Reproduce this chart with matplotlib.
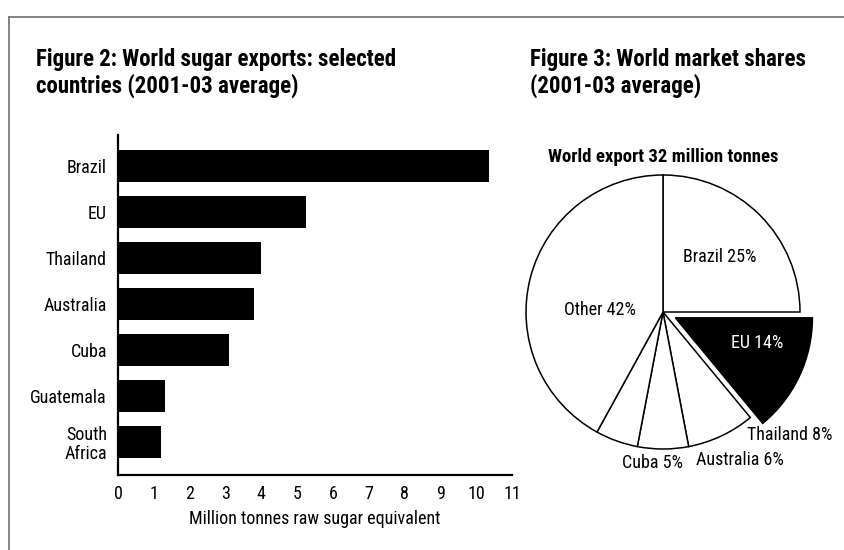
import matplotlib
matplotlib.use("Agg")
import matplotlib.pyplot as plt
from matplotlib.lines import Line2D

plt.rcParams["font.family"] = ["Roboto Condensed", "Pragati Narrow", "DejaVu Sans"]

# Figure 2 data: exports, million tonnes raw sugar equivalent
countries = ["Brazil", "EU", "Thailand", "Australia", "Cuba", "Guatemala", "South\nAfrica"]
exports = [10.35, 5.25, 4.0, 3.8, 3.1, 1.3, 1.2]
xticks = list(range(0, 12))

# Figure 3 data: world market shares (%)
share_names = ["Brazil", "EU", "Thailand", "Australia", "Cuba", "Other"]
shares = [25, 14, 8, 6, 5, 42]
total_export = 32

W, H = 845, 550
fig = plt.figure(figsize=(W / 100, H / 100), dpi=100)

def fx(px):
    return px / W

def fy(py):
    return 1 - py / H

# grey frame, top and left edges
fig.add_artist(Line2D([fx(9), 1], [fy(17), fy(17)], color="#6e6e6e", lw=1.2))
fig.add_artist(Line2D([fx(9), fx(9)], [fy(17), 0], color="#6e6e6e", lw=1.2))

# titles
tkw = dict(fontsize=16.5, fontweight="bold", va="baseline", ha="left")
fig.text(fx(36), fy(66), "Figure 2: World sugar exports: selected", **tkw)
fig.text(fx(36), fy(93), "countries (2001-03 average)", **tkw)
fig.text(fx(530), fy(66), "Figure 3: World market shares", **tkw)
fig.text(fx(530), fy(93), "(2001-03 average)", **tkw)

# ---- bar chart ----
ax = fig.add_axes([fx(118), fy(475), fx(512 - 118), (475 - 135) / H])
ypos = list(range(len(countries)))
ax.barh(ypos, exports, height=0.69, color="black")
ax.set_xlim(0, 11)
ax.set_ylim(6.72, -0.67)
ax.set_yticks(ypos)
ax.set_yticklabels(countries, fontsize=13, linespacing=1.05)
ax.set_xticks(xticks)
ax.set_xticklabels([str(t) for t in xticks], fontsize=13)
ax.tick_params(length=0, pad=7)
ax.tick_params(axis="y", pad=8)
for s in ["top", "right"]:
    ax.spines[s].set_visible(False)
for s in ["left", "bottom"]:
    ax.spines[s].set_linewidth(1.6)
ax.set_xlabel("Million tonnes raw sugar equivalent", fontsize=13, labelpad=5)

# ---- pie chart ----
cx, cy, r = 663, 312, 137
half = 230
pax = fig.add_axes([fx(cx - half), fy(cy + half), 2 * half / W, 2 * half / H])
colors = ["black" if n == "EU" else "white" for n in share_names]
explode = [0.1 if n == "EU" else 0 for n in share_names]
pax.pie(shares, colors=colors, explode=explode, startangle=90, counterclock=False,
        wedgeprops=dict(edgecolor="black", linewidth=1.1))
lim = half / r
pax.set_xlim(-lim, lim)
pax.set_ylim(-lim, lim)
pax.axis("off")

def pp(px, py):
    return (px - cx) / r, (cy - py) / r

label_pos = {
    "Brazil": (720, 257),
    "EU": (757, 343),
    "Thailand": (790, 435),
    "Australia": (740, 460),
    "Cuba": (652, 463),
    "Other": (600, 310),
}
for n, v in zip(share_names, shares):
    x, y = pp(*label_pos[n])
    pax.text(x, y, f"{n} {v}%", ha="center", va="center", fontsize=13,
             color="white" if n == "EU" else "black")

x, y = pp(cx, 157)
pax.text(x, y, f"World export {total_export} million tonnes", ha="center", va="center",
         fontsize=13.5, fontweight="bold")

fig.savefig("out.png", dpi=100)
